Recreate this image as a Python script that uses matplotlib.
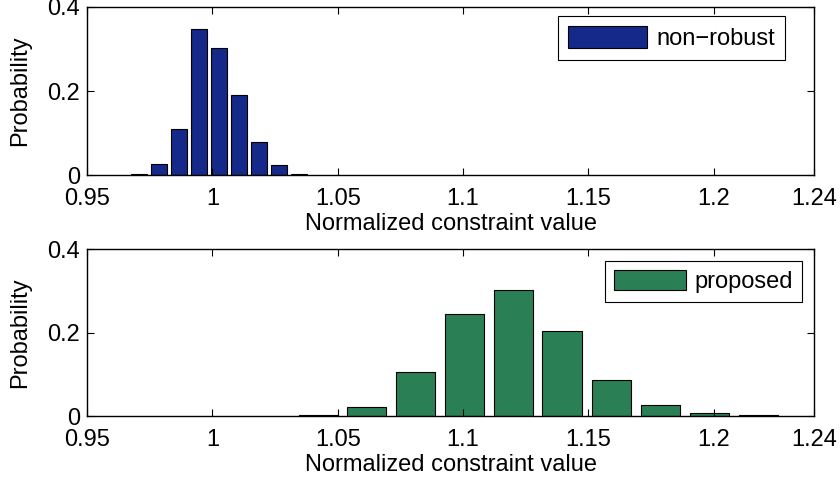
import matplotlib
matplotlib.use("Agg")
import matplotlib.pyplot as plt

plt.rcParams['font.family'] = ['Liberation Sans', 'DejaVu Sans']

# Data
top_centers = [0.9708, 0.9787, 0.9867, 0.9947, 1.0027, 1.0107, 1.0186, 1.0266, 1.0346]
top_probs = [0.003, 0.026, 0.110, 0.348, 0.303, 0.191, 0.079, 0.024, 0.003]
top_width = 0.008

bot_centers = [1.0422, 1.0615, 1.0811, 1.1006, 1.1200, 1.1395, 1.1591, 1.1787, 1.1982, 1.2178]
bot_probs = [0.002, 0.021, 0.106, 0.244, 0.302, 0.204, 0.086, 0.026, 0.007, 0.002]
bot_width = 0.0196

xticks = [0.95, 1.0, 1.05, 1.1, 1.15, 1.2, 1.24]
xticklabels = ['0.95', '1', '1.05', '1.1', '1.15', '1.2', '1.24']
yticks = [0, 0.2, 0.4]
yticklabels = ['0', '0.2', '0.4']

blue = '#15298a'
green = '#2b7f55'
fs = 17

fig = plt.figure(figsize=(8.4, 4.86), dpi=100)
ax1 = fig.add_axes([0.1036, 0.6399, 0.8655, 0.3457])
ax2 = fig.add_axes([0.1036, 0.1440, 0.8655, 0.3436])

def style(ax, xlab_y):
    ax.set_xlim(0.95, 1.24)
    ax.set_ylim(0, 0.4)
    ax.set_xticks(xticks)
    ax.set_xticklabels(xticklabels)
    ax.set_yticks(yticks)
    ax.set_yticklabels(yticklabels)
    ax.tick_params(direction='in', top=True, right=True, labelsize=fs, length=5, width=0.8)
    ax.tick_params(axis='x', pad=9)
    ax.tick_params(axis='y', pad=5)
    for s in ax.spines.values():
        s.set_linewidth(1.0)
    ax.set_xlabel('Normalized constraint value', fontsize=fs)
    ax.set_ylabel('Probability', fontsize=fs)
    ax.xaxis.set_label_coords(0.5, xlab_y)
    ax.yaxis.set_label_coords(-0.077, 0.5)

ax1.bar(top_centers, top_probs, width=top_width * 0.8, color=blue, edgecolor='black', linewidth=0.8, label='non\u2212robust')
ax2.bar(bot_centers, bot_probs, width=bot_width * 0.8, color=green, edgecolor='black', linewidth=0.8, label='proposed')
style(ax1, -0.225)
style(ax2, -0.226)

for ax, anchor, hl, hh, bp in ((ax1, (0.960, 0.946), 3.35, 1.06, 0.42),
                               (ax2, (0.9835, 0.928), 3.05, 0.93, 0.38)):
    leg = ax.legend(loc='upper right', bbox_to_anchor=anchor, borderaxespad=0, fontsize=fs,
                    fancybox=False, edgecolor='black', framealpha=1, handlelength=hl,
                    handleheight=hh, handletextpad=0.38, borderpad=bp)
    leg.get_frame().set_linewidth(0.8)

fig.savefig('out.png', dpi=100)
